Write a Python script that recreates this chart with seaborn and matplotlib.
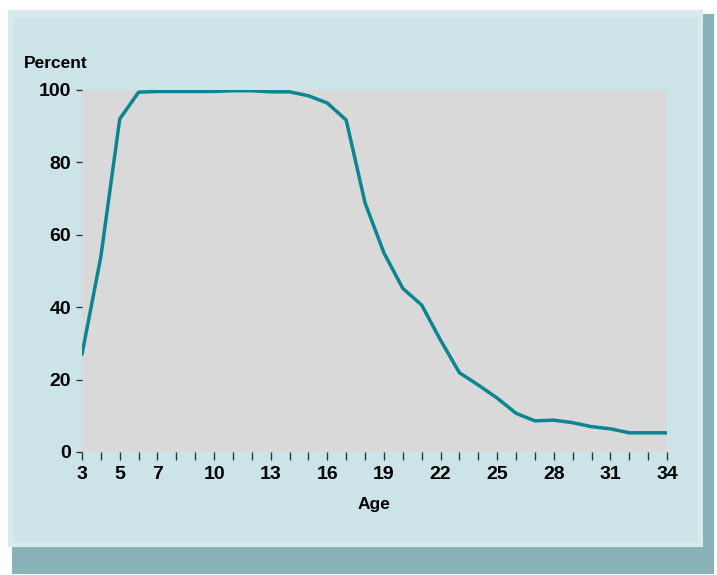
import numpy as np
import pandas as pd
import seaborn as sns
import matplotlib.pyplot as plt
from matplotlib.patches import Rectangle

# enrollment rate by age
ages = list(range(3, 35))
percent = [27, 54, 92, 99.4, 99.6, 99.6, 99.6, 99.6, 99.8, 99.8, 99.5, 99.5,
           98.4, 96.4, 91.7, 68.8, 55, 45.2, 40.6, 30.9, 21.9, 18.5, 14.9,
           10.7, 8.6, 8.8, 8.1, 7.0, 6.4, 5.3, 5.3, 5.3]
xtick_labels = [3, 5, 7, 10, 13, 16, 19, 22, 25, 28, 31, 34]
ytick_labels = [0, 20, 40, 60, 80, 100]

df = pd.DataFrame({"Age": ages, "Percent": percent})

sns.set_style("darkgrid", {"axes.facecolor": "#d9d9d9", "grid.color": "white",
                           "grid.linewidth": 1.2, "text.color": "black",
                           "xtick.color": "black", "ytick.color": "black",
                           "axes.labelcolor": "black"})
plt.rcParams["font.family"] = ["Liberation Sans", "DejaVu Sans"]

W, H = 717, 575
fig = plt.figure(figsize=(W / 100, H / 100), dpi=100, facecolor="white")

# framed panel with a drop shadow (pixel coords converted to fig fraction)
def px_rect(x0, y0, x1, y1, color, z):
    fig.patches.append(Rectangle((x0 / W, 1 - y1 / H), (x1 - x0) / W, (y1 - y0) / H,
                                 transform=fig.transFigure, facecolor=color,
                                 edgecolor="none", zorder=z))

px_rect(12, 14, 714, 574, "#88b2b8", -3)
px_rect(8, 10, 703, 547, "#d6eaec", -2)
px_rect(14, 18, 698, 542, "#cce4e8", -1)

ax = fig.add_axes([82 / W, 1 - 452 / H, 585 / W, 362 / H])
sns.lineplot(data=df, x="Age", y="Percent", ax=ax, color="#0a8591", linewidth=2.5)

ax.set_xlim(3, 34)
ax.set_ylim(0, 100)
ax.set_xticks(ages, minor=True)
ax.set_xticks(xtick_labels)
ax.set_xticklabels([str(v) for v in xtick_labels])
ax.set_yticks(ytick_labels)
ax.grid(axis="x", visible=False)
ax.grid(axis="y", which="major")
for s in ax.spines.values():
    s.set_visible(False)

ax.tick_params(axis="x", which="both", direction="out", length=6, width=1,
               color="#333333", bottom=True, pad=4)
ax.tick_params(axis="x", labelsize=14, labelcolor="black")
ax.tick_params(axis="y", direction="out", length=4, width=1, color="#333333",
               left=True, labelsize=14, labelcolor="black", pad=4)
for lab in ax.get_xticklabels() + ax.get_yticklabels():
    lab.set_fontweight("bold")

ax.set_xlabel("Age", fontsize=12.5, fontweight="bold", labelpad=10, color="black")
ax.set_ylabel("")
fig.text(24 / W, 1 - 64 / H, "Percent", fontsize=12.5, fontweight="bold",
         ha="left", va="center", color="black")

fig.savefig("out.png", dpi=100, facecolor=fig.get_facecolor())
